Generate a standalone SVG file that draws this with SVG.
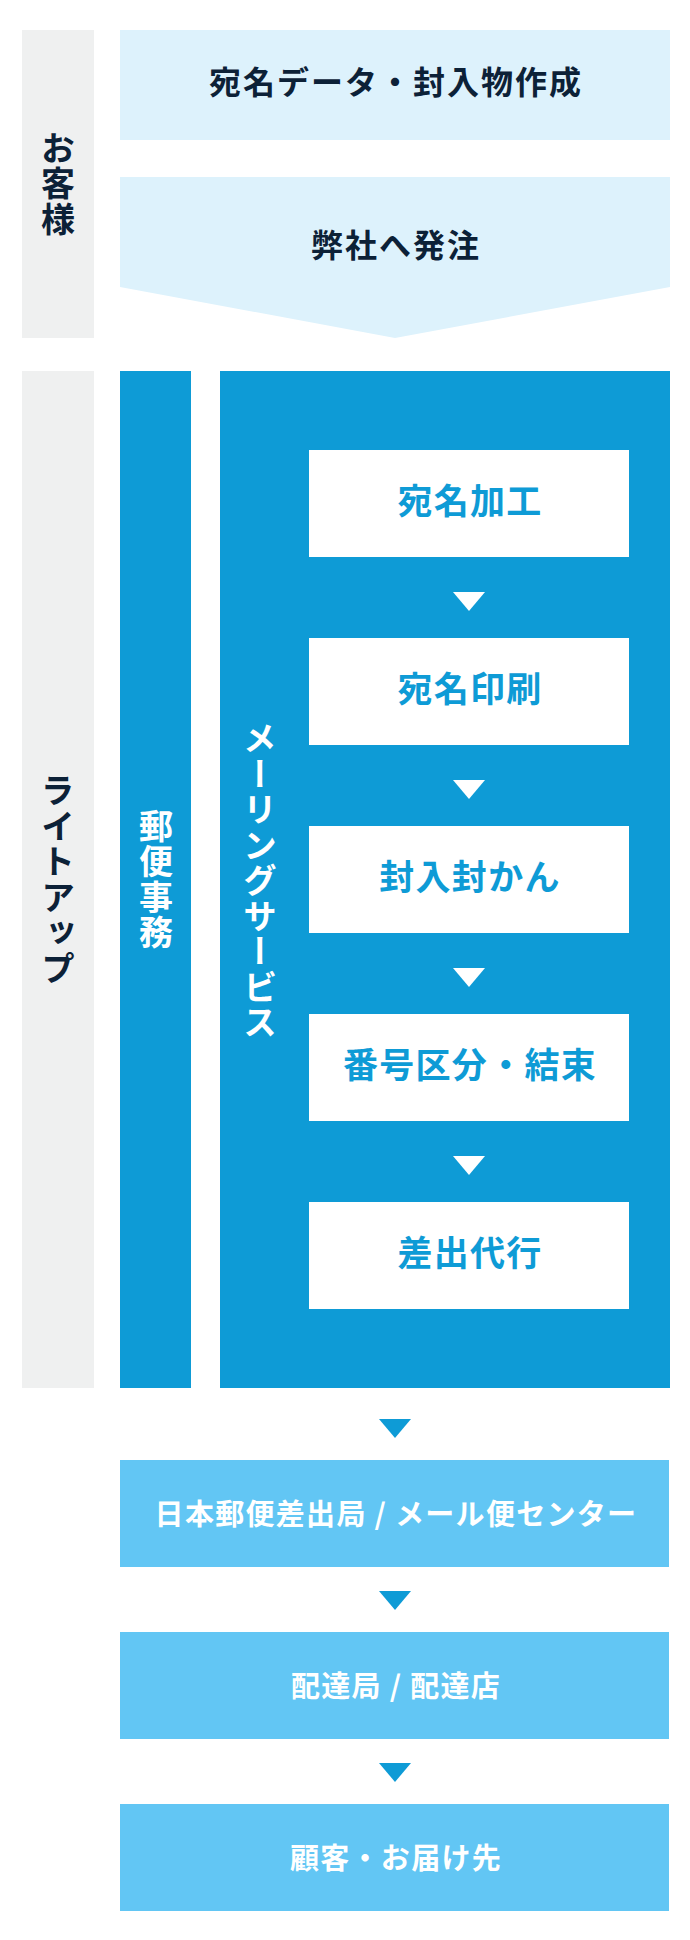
<svg xmlns="http://www.w3.org/2000/svg" width="690" height="1940" viewBox="0 0 690 1940">
<style>
text{font-family:"Noto Sans CJK JP","Noto Sans",sans-serif;font-weight:700}
.lane{fill:#EFF0F0}
.cust{fill:#DDF2FC}
.blue{fill:#0E9BD6}
.white{fill:#FFFFFF}
.sky{fill:#62C6F4}
.tn{fill:#0C2137;font-size:32px;letter-spacing:2px;text-anchor:middle}
.tb{fill:#0E9BD6;font-size:35px;letter-spacing:1.3px;text-anchor:middle}
.tw{fill:#FFFFFF;font-size:29px;letter-spacing:1.3px;text-anchor:middle}
.v{font-size:34px;letter-spacing:1.5px;text-anchor:middle;writing-mode:vertical-rl}
.vn{fill:#0C2137}
.vw{fill:#FFFFFF}
.aw{fill:#FFFFFF}
.ab{fill:#0E9BD6}
</style>
<rect width="690" height="1940" fill="#FFFFFF"/>
<g id="lane-customer">
<rect class="lane" x="22" y="30" width="72" height="308"/>
<text class="v vn" x="58" y="184">お客様</text>
</g>
<g id="lane-lightup">
<rect class="lane" x="22" y="371" width="72" height="1017"/>
<text class="v vn" x="58" y="880">ライトアップ</text>
</g>
<g id="node-data">
<rect class="cust" x="120" y="30" width="550" height="110"/>
<text class="tn" x="396" y="94">宛名データ・封入物作成</text>
</g>
<g id="node-order">
<polygon class="cust" points="120,177 670,177 670,287 395,338 120,287"/>
<text class="tn" x="396" y="257">弊社へ発注</text>
</g>
<g id="node-postal">
<rect class="blue" x="120" y="371" width="71" height="1017"/>
<text class="v vw" x="156" y="880">郵便事務</text>
</g>
<g id="node-mailing">
<rect class="blue" x="220" y="371" width="450" height="1017"/>
<text class="v vw" x="260" y="881">メーリングサービス</text>
</g>
<g id="node-step1">
<rect class="white" x="309" y="450" width="320" height="107"/>
<text class="tb" x="470" y="514">宛名加工</text>
</g>
<g id="node-step2">
<rect class="white" x="309" y="638" width="320" height="107"/>
<text class="tb" x="470" y="702">宛名印刷</text>
</g>
<g id="node-step3">
<rect class="white" x="309" y="826" width="320" height="107"/>
<text class="tb" x="470" y="890">封入封かん</text>
</g>
<g id="node-step4">
<rect class="white" x="309" y="1014" width="320" height="107"/>
<text class="tb" x="470" y="1078">番号区分・結束</text>
</g>
<g id="node-step5">
<rect class="white" x="309" y="1202" width="320" height="107"/>
<text class="tb" x="470" y="1266">差出代行</text>
</g>
<g id="node-post-office">
<rect class="sky" x="120" y="1460" width="549" height="107"/>
<text class="tw" x="396" y="1525">日本郵便差出局 / メール便センター</text>
</g>
<g id="node-delivery">
<rect class="sky" x="120" y="1632" width="549" height="107"/>
<text class="tw" x="396" y="1697">配達局 / 配達店</text>
</g>
<g id="node-customer">
<rect class="sky" x="120" y="1804" width="549" height="107"/>
<text class="tw" x="396" y="1869">顧客・お届け先</text>
</g>
<g id="connectors">
<polygon class="aw" points="453,592 485,592 469,611"/>
<polygon class="aw" points="453,780 485,780 469,799"/>
<polygon class="aw" points="453,968 485,968 469,987"/>
<polygon class="aw" points="453,1156 485,1156 469,1175"/>
<polygon class="ab" points="379,1419 411,1419 395,1438"/>
<polygon class="ab" points="379,1591 411,1591 395,1610"/>
<polygon class="ab" points="379,1763 411,1763 395,1782"/>
</g>
</svg>
